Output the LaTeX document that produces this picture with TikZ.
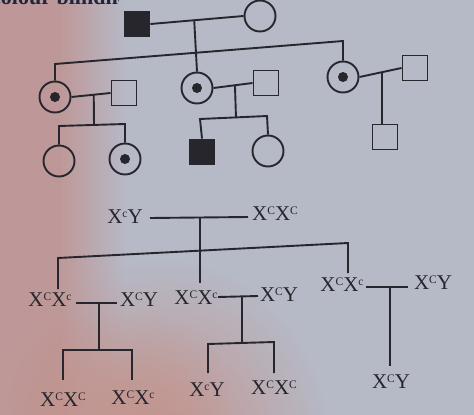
\documentclass[tikz,border=0pt]{standalone}
\usepackage{fontspec}
\setmainfont{Liberation Serif}
\usetikzlibrary{fadings,calc}
\definecolor{bgright}{RGB}{182,185,198}
\definecolor{bgleft}{RGB}{190,152,152}
\definecolor{bgred}{RGB}{196,146,138}
\definecolor{ink}{RGB}{38,38,44}
\definecolor{headink}{RGB}{30,38,62}
\tikzfading[name=softblob, inner color=transparent!0, outer color=transparent!100]
\newcommand{\sx}[1]{\raisebox{6pt}{\fontsize{11.5}{11.5}\selectfont #1}}
\tikzset{
  male/.style={draw=ink, line width=1.9pt, minimum size=25pt, inner sep=0pt, rectangle},
  affmale/.style={male, fill=ink},
  female/.style={draw=ink, line width=1.9pt, minimum size=31pt, inner sep=0pt, circle},
  carrier/.style={female, path picture={\fill[ink] (path picture bounding box.center) circle (5pt);}},
  geno/.style={inner sep=0pt, font=\fontsize{21}{22}\selectfont, text=ink},
  link/.style={draw=ink, line width=1.9pt}
}
\begin{document}
\begin{tikzpicture}[x=1pt,y=-1pt]
\useasboundingbox (0,0) rectangle (474,415);
% background
\fill[bgright] (0,0) rectangle (474,415);
\fill[bgleft] (0,0) rectangle (60,415);
\shade[left color=bgleft, right color=bgright] (60,0) rectangle (125,415);
\fill[bgred, path fading=softblob] (160,450) ellipse (170 and 190);
\fill[bgred, path fading=softblob, opacity=0.6] (120,400) ellipse (110 and 90);
% partial heading at top
\begin{scope}
\clip (0,0) rectangle (118,7);
\node[anchor=base west, inner sep=0pt, text=headink, font=\fontsize{22}{22}\selectfont\bfseries] (head) at (-9,5) {colour blindness};
\end{scope}

% ---------- pedigree ----------
\node[affmale] (gf) at (137,24) {};
\node[female] (gm) at (260,16) {};
\node[carrier] (d1) at (55,97) {};
\node[carrier] (d2) at (197,88) {};
\node[carrier] (d3) at (343,77) {};
\node[male] (h1) at (124,93) {};
\node[male] (h2) at (266,83) {};
\node[male] (h3) at (415,68) {};
\node[female] (c1) at (59,161) {};
\node[carrier] (c2) at (125,159) {};
\node[affmale] (c3) at (202,152) {};
\node[female] (c4) at (268,151) {};
\node[male] (c5) at (385,137) {};

\coordinate (m0) at ($(gf.east)!0.47!(gm.west)$);
\coordinate (s0L) at (55,64);
\coordinate (s0R) at (343,41);
\draw[link] (gf.east) -- (gm.west);
\draw[link] (m0) -- (d2.north);
\draw[link] (d1.north) -- (s0L) -- (s0R) -- (d3.north);

\coordinate (m1) at ($(d1.east)!0.57!(h1.west)$);
\coordinate (k1) at (94,125);
\draw[link] (d1.east) -- (h1.west);
\draw[link] (m1) -- (k1);
\draw[link] (c1.north) -- (59,126) -- (125,124) -- (c2.north);

\coordinate (m2) at ($(d2.east)!0.55!(h2.west)$);
\coordinate (k2) at (236,118);
\draw[link] (d2.east) -- (h2.west);
\draw[link] (m2) -- (k2);
\draw[link] (c3.north) -- (200,119) -- (267,116) -- (c4.north);

\coordinate (m3) at ($(d3.east)!0.53!(h3.west)$);
\draw[link] (d3.east) -- (h3.west);
\draw[link] (m3) -- (m3 |- c5.north);

% ---------- genotypes ----------
\node[geno] (g0) at (125,217) {X\sx{c}Y};
\node[geno] (g0b) at (275,214) {X\sx{C}X\sx{C}};
\node[geno] (g1) at (50,300) {X\sx{C}X\sx{c}};
\node[geno] (g1b) at (139,300) {X\sx{C}Y};
\node[geno] (g2) at (196,298) {X\sx{C}X\sx{c}};
\node[geno] (g2b) at (279,295) {X\sx{C}Y};
\node[geno] (g3) at (342,285) {X\sx{C}X\sx{c}};
\node[geno] (g3b) at (433,283) {X\sx{C}Y};
\node[geno] (g11) at (63,400) {X\sx{C}X\sx{C}};
\node[geno] (g12) at (133,398) {X\sx{C}X\sx{c}};
\node[geno] (g21) at (207,390) {X\sx{c}Y};
\node[geno] (g22) at (274,388) {X\sx{C}X\sx{C}};
\node[geno] (g31) at (391,382) {X\sx{C}Y};

\coordinate (n0a) at (150,218);
\coordinate (n0b) at (248,217);
\coordinate (j0) at (200,217.5);
\coordinate (t0L) at (58,258);
\coordinate (t0R) at (348,243);
\draw[link] (n0a) -- (n0b);
\draw[link] (j0) -- (200,283);
\draw[link] (58,289) -- (t0L) -- (t0R) -- (348,273);

\coordinate (n1a) at (76,303);
\coordinate (n1b) at (117,303);
\draw[link] (n1a) -- (n1b);
\draw[link] (99,303) -- (99,350);
\draw[link] (63,380) -- (63,350) -- (132,350) -- (132,380);

\coordinate (n2a) at (218,297);
\coordinate (n2b) at (258,296);
\draw[link] (n2a) -- (n2b);
\draw[link] (242,296.5) -- (242,343);
\draw[link] (208,373) -- (208,344) -- (274,342) -- (274,373);

\coordinate (n3a) at (366,287);
\coordinate (n3b) at (408,287);
\draw[link] (n3a) -- (n3b);
\draw[link] (390,287) -- (390,366);
\end{tikzpicture}
\end{document}
